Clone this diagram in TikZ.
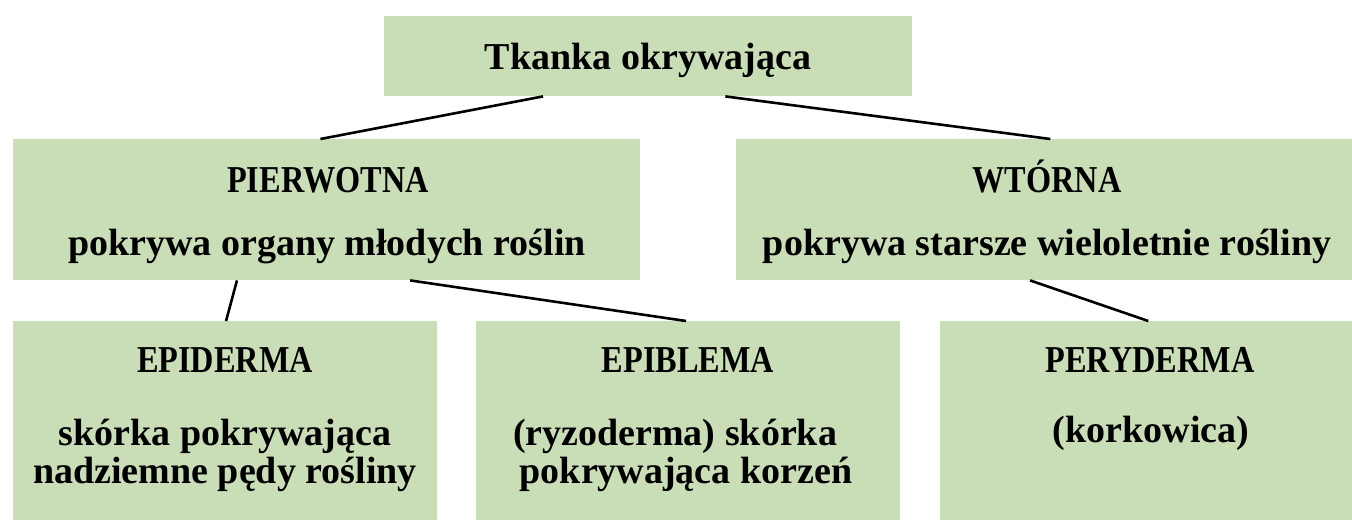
\documentclass[tikz,border=0pt]{standalone}
\usepackage{fontspec}
\setmainfont{Liberation Serif}
\usetikzlibrary{calc}
\definecolor{boxgreen}{HTML}{C9DDB6}
\newcommand{\capt}[1]{\scalebox{0.85}[1]{#1}}
\tikzset{
  greenbox/.style={fill=boxgreen, draw=none, inner sep=0pt, anchor=north west},
  lbl/.style={font=\fontsize{38}{42}\selectfont\bfseries, anchor=base, inner sep=0pt, text=black},
  caplbl/.style={font=\fontsize{38}{42}\selectfont\bfseries, anchor=base, inner sep=0pt, text=black},
  conn/.style={draw=black, line width=2.6pt}
}
\begin{document}
\begin{tikzpicture}[x=1pt,y=-1pt]
\useasboundingbox (0,0) rectangle (1352,520);
% boxes
\node[greenbox, minimum width=528pt, minimum height=80pt] (top) at (384,16) {};
\node[greenbox, minimum width=627pt, minimum height=141pt] (pier) at (13,139) {};
\node[greenbox, minimum width=616pt, minimum height=141pt] (wtor) at (736,139) {};
\node[greenbox, minimum width=424pt, minimum height=199pt] (epid) at (13,321) {};
\node[greenbox, minimum width=424pt, minimum height=199pt] (epib) at (476,321) {};
\node[greenbox, minimum width=412pt, minimum height=199pt] (pery) at (940,321) {};
% labels
\node[lbl] (t0) at (648,69) {Tkanka okrywająca};
\node[caplbl] (t1) at (328,192) {\capt{PIERWOTNA}};
\node[lbl] (t2) at (327,255) {pokrywa organy młodych roślin};
\node[caplbl] (t3) at (1047,192) {\capt{WTÓRNA}};
\node[lbl] (t4) at (1047,255) {pokrywa starsze wieloletnie rośliny};
\node[caplbl] (t5) at (225,372) {\capt{EPIDERMA}};
\node[lbl] (t6) at (225,445) {skórka pokrywająca};
\node[lbl] (t7) at (225,483) {nadziemne pędy rośliny};
\node[caplbl] (t8) at (688,372) {\capt{EPIBLEMA}};
\node[lbl] (t9) at (675,445) {(ryzoderma) skórka};
\node[lbl] (t10) at (686,483) {pokrywająca korzeń};
\node[caplbl] (t11) at (1150,372) {\capt{PERYDERMA}};
\node[lbl] (t12) at (1151,442) {(korkowica)};
% connectors
\draw[conn] ($(top.south west)!0.301!(top.south east)$) -- ($(pier.north west)!0.49!(pier.north east)$);
\draw[conn] ($(top.south west)!0.646!(top.south east)$) -- ($(wtor.north west)!0.51!(wtor.north east)$);
\draw[conn] ($(pier.south west)!0.357!(pier.south east)$) -- ($(epid.north west)!0.502!(epid.north east)$);
\draw[conn] ($(pier.south west)!0.633!(pier.south east)$) -- ($(epib.north west)!0.495!(epib.north east)$);
\draw[conn] ($(wtor.south west)!0.477!(wtor.south east)$) -- ($(pery.north west)!0.505!(pery.north east)$);
\end{tikzpicture}
\end{document}
